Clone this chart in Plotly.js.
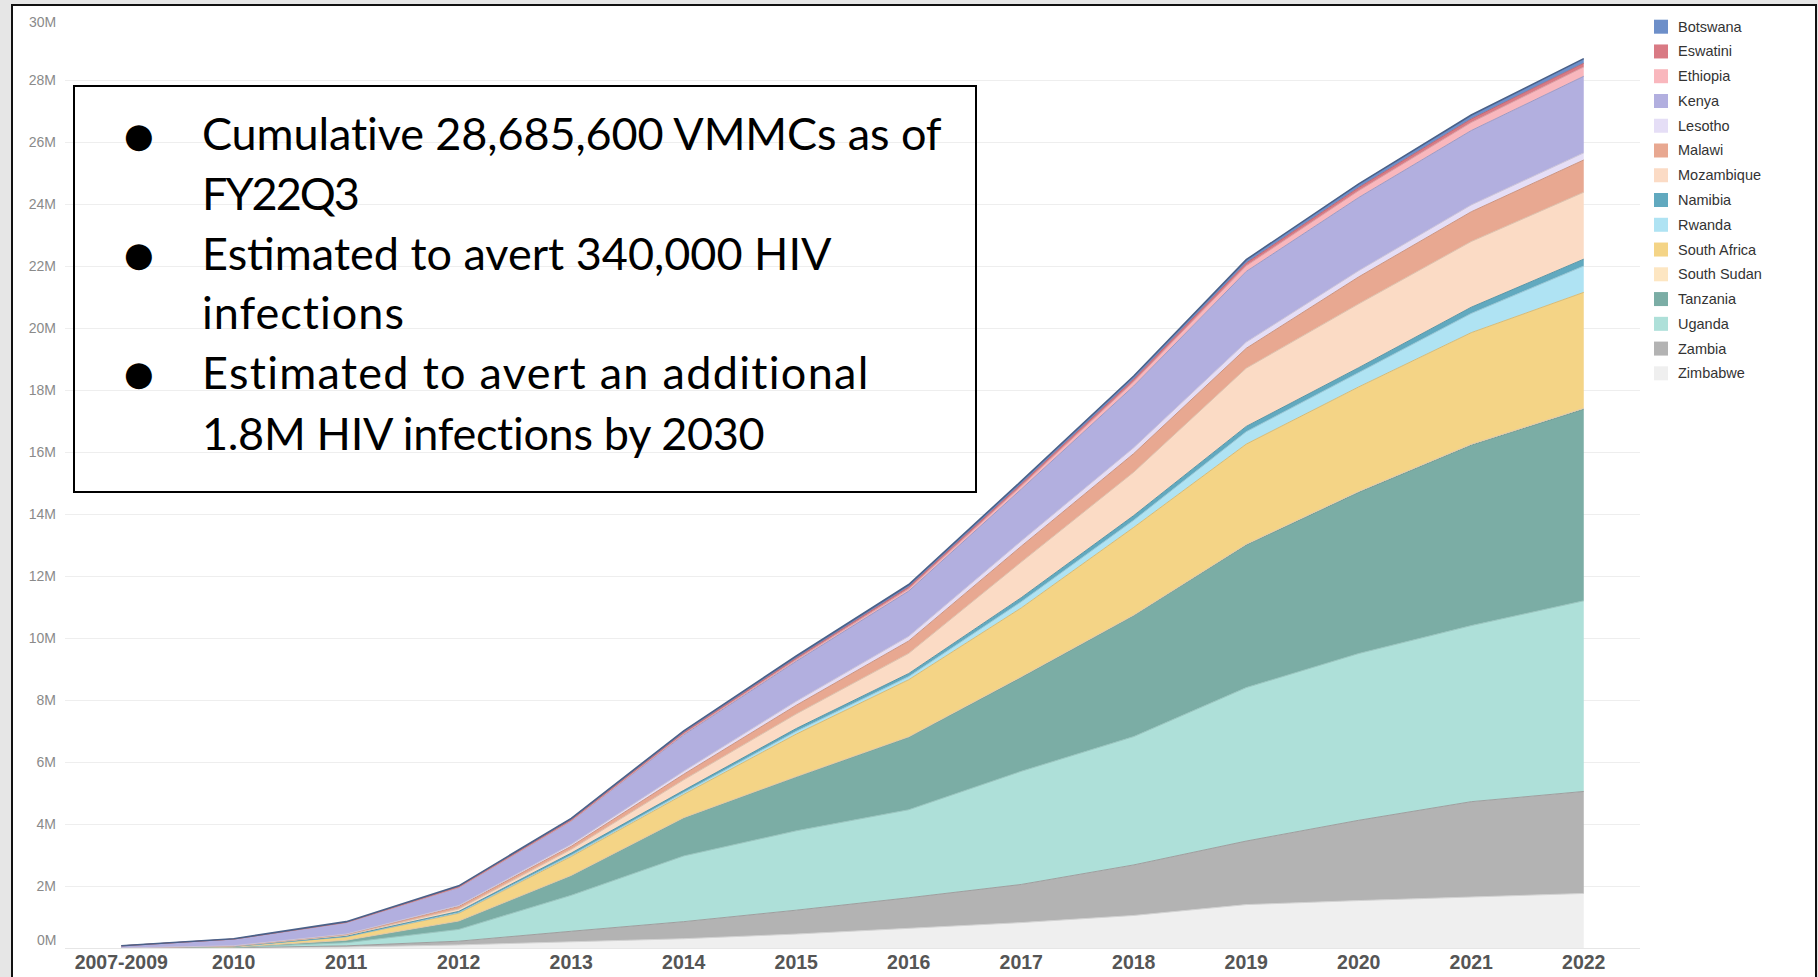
<!DOCTYPE html>
<html><head><meta charset="utf-8">
<script src="https://cdn.plot.ly/plotly-3.0.1.min.js"></script>
<style>
html,body{margin:0;padding:0;background:#e6e6e6;width:1818px;height:977px;overflow:hidden;}
#frame{position:absolute;left:11px;top:4px;width:1806px;height:1000px;border:2px solid #111;background:#fff;box-sizing:border-box;}
#chart{position:absolute;left:0;top:0;width:1818px;height:977px;}
</style></head><body>
<div id="frame"></div>
<div id="chart"></div>
<script>
// ---- data (cumulative VMMCs, millions) ----
const years = ['2007-2009','2010','2011','2012','2013','2014','2015','2016','2017','2018','2019','2020','2021','2022'];
const countries = ['Botswana','Eswatini','Ethiopia','Kenya','Lesotho','Malawi','Mozambique','Namibia','Rwanda','South Africa','South Sudan','Tanzania','Uganda','Zambia','Zimbabwe'];
const colors = ['#6d8fc9','#d97a84','#f9b7bd','#b2afdf','#e5def6','#e8a891','#fbdbc5','#61a9bf','#afe3f3','#f4d486','#fde6c2','#7bada5','#aee0d9','#b3b3b3','#efefef'];

const botswana    = [0.005,0.01,0.02,0.03,0.05,0.06,0.07,0.08,0.09,0.10,0.11,0.12,0.13,0.15];
const eswatini    = [0.000,0.005,0.01,0.02,0.03,0.04,0.05,0.06,0.07,0.08,0.09,0.10,0.11,0.12];
const ethiopia    = [0.000,0.000,0.000,0.005,0.01,0.03,0.05,0.07,0.10,0.14,0.18,0.22,0.26,0.30];
const kenya       = [0.070,0.21,0.37,0.58,0.75,1.17,1.29,1.46,1.67,1.99,2.28,2.36,2.40,2.47];
const lesotho     = [0.000,0.005,0.01,0.03,0.06,0.10,0.13,0.15,0.17,0.19,0.20,0.20,0.22,0.23];
const malawi      = [0.000,0.01,0.03,0.08,0.10,0.18,0.28,0.40,0.51,0.60,0.64,0.87,0.96,1.04];
const mozambique  = [0.000,0.005,0.03,0.08,0.12,0.34,0.47,0.65,1.15,1.40,1.88,2.06,2.12,2.16];
const namibia     = [0.000,0.005,0.015,0.04,0.07,0.07,0.09,0.10,0.13,0.15,0.17,0.17,0.20,0.22];
const rwanda      = [0.000,0.000,0.005,0.02,0.04,0.06,0.09,0.10,0.20,0.23,0.40,0.45,0.62,0.85];
const southAfrica = [0.000,0.02,0.11,0.25,0.61,0.75,1.37,1.84,2.22,2.83,3.23,3.37,3.60,3.74];
const southSudan  = [0.000,0.000,0.000,0.000,0.002,0.005,0.01,0.015,0.02,0.02,0.025,0.03,0.03,0.03];
const tanzania    = [0.000,0.01,0.08,0.27,0.64,1.23,1.74,2.34,3.03,3.90,4.60,5.20,5.82,6.18];
const uganda      = [0.000,0.01,0.10,0.38,1.16,2.12,2.56,2.84,3.65,4.14,4.95,5.38,5.68,6.15];
const zambia      = [0.000,0.005,0.04,0.12,0.34,0.55,0.77,0.99,1.23,1.63,2.05,2.59,3.07,3.29];
const zimbabwe    = [0.000,0.005,0.03,0.10,0.20,0.30,0.45,0.63,0.82,1.05,1.40,1.53,1.65,1.76];

const seriesValues = [botswana,eswatini,ethiopia,kenya,lesotho,malawi,mozambique,namibia,rwanda,southAfrica,southSudan,tanzania,uganda,zambia,zimbabwe];

const yTickVals = [0,2,4,6,8,10,12,14,16,18,20,22,24,26,28,30];
const yTickText = ['0M','2M','4M','6M','8M','10M','12M','14M','16M','18M','20M','22M','24M','26M','28M','30M'];

const notes = ['Cumulative 28,685,600 VMMCs as of','FY22Q3','Estimated to avert 340,000 HIV','infections','Estimated to avert an additional','1.8M HIV infections by 2030'];
const bulletLines = [0,2,4];

// ---- layout geometry (pixels) ----
const W=1818,H=977,L=65,R=178,T=18,B=29;
const pw=W-L-R, ph=H-T-B;
const px = v => (v-L)/pw;
const py = v => (H-B-v)/ph;

function darken(hex,f){
  const n=parseInt(hex.slice(1),16);
  const r=Math.round(((n>>16)&255)*(1-f)),g=Math.round(((n>>8)&255)*(1-f)),b=Math.round((n&255)*(1-f));
  return 'rgb('+r+','+g+','+b+')';
}

// stack bottom-up: Zimbabwe first
const traces=[];
for(let i=countries.length-1;i>=0;i--){
  const top = i===0;
  traces.push({
    type:'scatter',mode:'lines',name:countries[i],
    x:years,y:seriesValues[i],stackgroup:'one',
    fillcolor:colors[i],
    line:{color:darken(colors[i],top?0.32:0.12),width:top?1.6:1,shape:'linear'},
    hoverinfo:'skip',showlegend:false
  });
}

const shapes=[], annotations=[];
// legend
const legTop=26.7, legStep=24.76;
countries.forEach((c,i)=>{
  const cy=legTop+i*legStep;
  shapes.push({type:'rect',xref:'paper',yref:'paper',x0:px(1654),x1:px(1668),y0:py(cy+7),y1:py(cy-7),
    fillcolor:colors[i],line:{width:0},layer:'above'});
  annotations.push({xref:'paper',yref:'paper',x:px(1676),y:py(cy),xanchor:'left',yanchor:'middle',
    text:c,showarrow:false,font:{family:'Liberation Sans, Arial, sans-serif',size:14.5,color:'#333'}});
});
// end tick labels nudged inside the pane (as in the original)
const tickFont={family:'Liberation Sans, Arial, sans-serif',size:14,color:'#8a8a8a'};
annotations.push({xref:'paper',yref:'y',x:px(58),y:yTickVals[0],xanchor:'right',yanchor:'middle',yshift:8,
  text:yTickText[0],showarrow:false,font:tickFont});
annotations.push({xref:'paper',yref:'y',x:px(58),y:yTickVals[yTickVals.length-1],xanchor:'right',yanchor:'middle',yshift:-4,
  text:yTickText[yTickText.length-1],showarrow:false,font:tickFont});
// text box
shapes.push({type:'rect',xref:'paper',yref:'paper',x0:px(74),x1:px(976),y0:py(86),y1:py(492),
  line:{color:'#000',width:2},fillcolor:'rgba(0,0,0,0)',layer:'above'});
const lineY=[133.5,192.6,253,312,372,432.6];
const lineSpacing=[-0.1,-2.0,0,1.0,1.3,-0.3];
notes.forEach((t,i)=>{
  annotations.push({xref:'paper',yref:'paper',x:px(199.5),y:py(lineY[i]),xanchor:'left',yanchor:'middle',
    text:'<span style="letter-spacing:'+lineSpacing[i]+'px">'+t+'</span>',showarrow:false,
    font:{family:'Lato, sans-serif',size:45,color:'#000'}});
});
bulletLines.forEach(i=>{
  annotations.push({xref:'paper',yref:'paper',x:px(139),y:py(lineY[i]+1),xanchor:'center',yanchor:'middle',
    text:'●',showarrow:false,font:{family:'DejaVu Sans, sans-serif',size:34,color:'#000'}});
});

const layout={
  width:W,height:H,
  margin:{l:L,r:R,t:T,b:B,pad:0},
  paper_bgcolor:'rgba(0,0,0,0)',plot_bgcolor:'rgba(0,0,0,0)',
  showlegend:false,
  xaxis:{type:'category',range:[-0.5,13.5],showgrid:false,zeroline:false,
    showline:true,linecolor:'#e6e6e6',linewidth:1,ticks:'',ticklabelstandoff:-3,
    tickfont:{family:'Liberation Sans, Arial, sans-serif',size:19.5,color:'#555',weight:'bold'},fixedrange:true},
  yaxis:{range:[0,30],tickmode:'array',tickvals:yTickVals,
    ticktext:yTickText.map((t,i)=>(i===0||i===yTickText.length-1)?'':t),
    showgrid:true,gridcolor:'#eeeeee',gridwidth:1,
    zeroline:false,showline:false,ticks:'',ticklabelstandoff:8,
    tickfont:tickFont,fixedrange:true},
  shapes:shapes,annotations:annotations,hovermode:false
};
Plotly.newPlot('chart',traces,layout,{displayModeBar:false,staticPlot:true});
</script>
</body></html>
